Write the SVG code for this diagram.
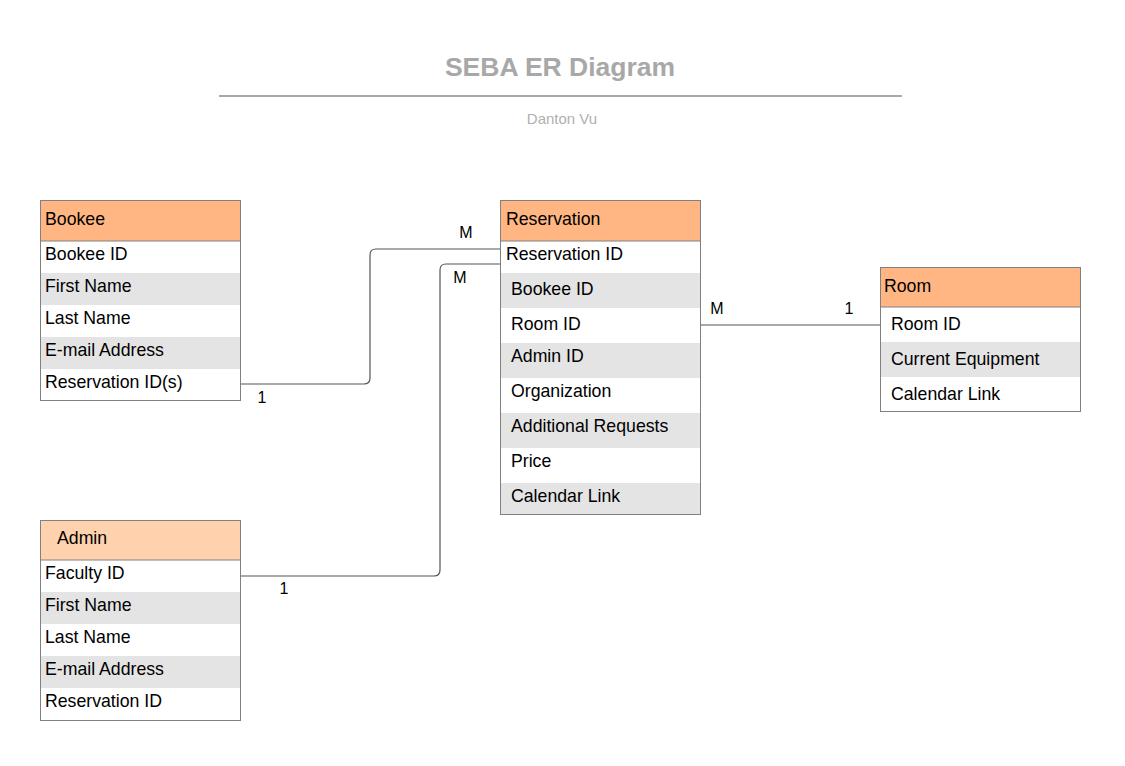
<svg xmlns="http://www.w3.org/2000/svg" width="1125" height="766" viewBox="0 0 1125 766">
<style>
text{font-family:"Liberation Sans",Arial,sans-serif;fill:#000}
.t{font-size:17.7px}
.lbl{font-size:16px;text-anchor:middle}
.box{fill:none;stroke:#808080;stroke-width:1}
.hd{fill:#FFB682}
.hd2{fill:#FFD1AC}
.g{fill:#E4E4E4}
.w{fill:#FFFFFF}
.sep{stroke:#808080;stroke-width:1}
.conn{fill:none;stroke:#555;stroke-width:1.2}
</style>
<rect width="1125" height="766" fill="#fff"/>
<g id="title">
<text x="560" y="76" text-anchor="middle" style="font-size:26.5px;font-weight:bold;fill:#A8A8A8">SEBA ER Diagram</text>
<line x1="219" y1="96" x2="902" y2="96" stroke="#A8A8A8" stroke-width="2"/>
<text x="562" y="124" text-anchor="middle" style="font-size:15px;fill:#B0B0B0">Danton Vu</text>
</g>
<g id="connectors">
<path class="conn" d="M240,384 H364 Q370,384 370,378 V255 Q370,249 376,249 H500"/>
<path class="conn" d="M240,576 H434 Q440,576 440,570 V270 Q440,264 446,264 H500"/>
<path class="conn" d="M700,325 H880"/>
<text class="lbl" x="262" y="403">1</text>
<text class="lbl" x="466" y="238">M</text>
<text class="lbl" x="460" y="283">M</text>
<text class="lbl" x="284" y="594">1</text>
<text class="lbl" x="717" y="314">M</text>
<text class="lbl" x="849" y="314">1</text>
</g>
<g id="bookee">
<rect class="hd" x="40" y="200" width="200" height="41"/>
<rect class="w" x="40" y="241" width="200" height="32"/>
<rect class="g" x="40" y="273" width="200" height="32"/>
<rect class="w" x="40" y="305" width="200" height="32"/>
<rect class="g" x="40" y="337" width="200" height="32"/>
<rect class="w" x="40" y="369" width="200" height="31"/>
<line class="sep" x1="40" y1="241" x2="240" y2="241"/>
<rect class="box" x="40.5" y="200.5" width="200" height="200"/>
<text class="t" x="45" y="225">Bookee</text>
<text class="t" x="45" y="260">Bookee ID</text>
<text class="t" x="45" y="292">First Name</text>
<text class="t" x="45" y="324">Last Name</text>
<text class="t" x="45" y="356">E-mail Address</text>
<text class="t" x="45" y="388">Reservation ID(s)</text>
</g>
<g id="reservation">
<rect class="hd" x="500" y="200" width="200" height="41"/>
<rect class="w" x="500" y="241" width="200" height="32"/>
<rect class="g" x="500" y="273" width="200" height="35"/>
<rect class="w" x="500" y="308" width="200" height="35"/>
<rect class="g" x="500" y="343" width="200" height="35"/>
<rect class="w" x="500" y="378" width="200" height="35"/>
<rect class="g" x="500" y="413" width="200" height="35"/>
<rect class="w" x="500" y="448" width="200" height="35"/>
<rect class="g" x="500" y="483" width="200" height="31"/>
<line class="sep" x1="500" y1="241" x2="700" y2="241"/>
<rect class="box" x="500.5" y="200.5" width="200" height="314"/>
<text class="t" x="506" y="225">Reservation</text>
<text class="t" x="506" y="260">Reservation ID</text>
<text class="t" x="511" y="295">Bookee ID</text>
<text class="t" x="511" y="330">Room ID</text>
<text class="t" x="511" y="362">Admin ID</text>
<text class="t" x="511" y="397">Organization</text>
<text class="t" x="511" y="432">Additional Requests</text>
<text class="t" x="511" y="467">Price</text>
<text class="t" x="511" y="502">Calendar Link</text>
</g>
<g id="room">
<rect class="hd" x="880" y="267" width="200" height="40"/>
<rect class="w" x="880" y="307" width="200" height="35"/>
<rect class="g" x="880" y="342" width="200" height="35"/>
<rect class="w" x="880" y="377" width="200" height="34"/>
<line class="sep" x1="880" y1="307" x2="1080" y2="307"/>
<rect class="box" x="880.5" y="267.5" width="200" height="144"/>
<text class="t" x="884" y="292">Room</text>
<text class="t" x="891" y="330">Room ID</text>
<text class="t" x="891" y="365">Current Equipment</text>
<text class="t" x="891" y="400">Calendar Link</text>
</g>
<g id="admin">
<rect class="hd2" x="40" y="520" width="200" height="40"/>
<rect class="w" x="40" y="560" width="200" height="32"/>
<rect class="g" x="40" y="592" width="200" height="32"/>
<rect class="w" x="40" y="624" width="200" height="32"/>
<rect class="g" x="40" y="656" width="200" height="32"/>
<rect class="w" x="40" y="688" width="200" height="32"/>
<line class="sep" x1="40" y1="560" x2="240" y2="560"/>
<rect class="box" x="40.5" y="520.5" width="200" height="200"/>
<text class="t" x="57" y="544">Admin</text>
<text class="t" x="45" y="579">Faculty ID</text>
<text class="t" x="45" y="611">First Name</text>
<text class="t" x="45" y="643">Last Name</text>
<text class="t" x="45" y="675">E-mail Address</text>
<text class="t" x="45" y="707">Reservation ID</text>
</g>
</svg>
